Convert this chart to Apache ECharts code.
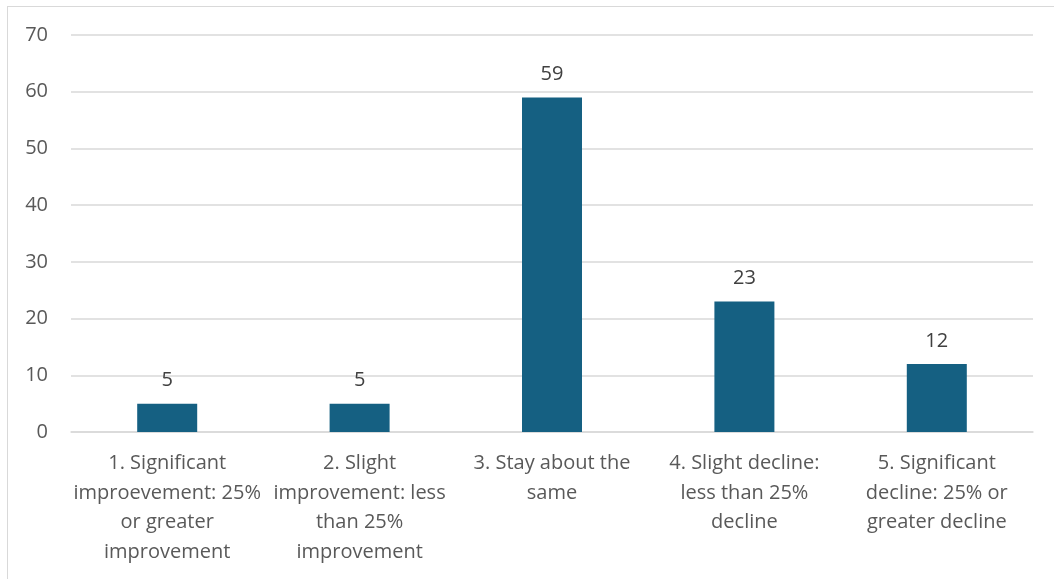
<!DOCTYPE html>
<html><head><meta charset="utf-8">
<script src="https://cdn.jsdelivr.net/npm/echarts@6/dist/echarts.min.js"></script>
<style>
html,body{margin:0;padding:0;background:#fff;}
#frame{position:absolute;left:7px;top:6px;width:1060px;height:590px;border:1px solid #d9d9d9;box-sizing:border-box;}
#c{position:absolute;left:0;top:0;width:1054px;height:579px;}
</style></head>
<body>
<div id="frame"></div>
<div id="c"></div>
<script>
const categories = [
  "1. Significant\nimproevement: 25%\nor greater\nimprovement",
  "2. Slight\nimprovement: less\nthan 25%\nimprovement",
  "3. Stay about the\nsame",
  "4. Slight decline:\nless than 25%\ndecline",
  "5. Significant\ndecline: 25% or\ngreater decline"
];
const values = [5, 5, 59, 23, 12];
const yTicks = [0, 10, 20, 30, 40, 50, 60, 70];

const chart = echarts.init(document.getElementById('c'), null, {renderer:'canvas'});
const font = '"Open Sans", "Noto Sans", sans-serif';
chart.setOption({
  animation:false,
  grid:{left:71, right:21, top:35, bottom:147, containLabel:false},
  xAxis:{
    type:'category', data:categories,
    axisTick:{show:false},
    axisLine:{lineStyle:{color:'#d9d9d9', width:1.5}},
    axisLabel:{color:'#595959', fontSize:20, fontFamily:font, lineHeight:29.5, margin:17, interval:0, align:'center'}
  },
  yAxis:{
    type:'value', min:yTicks[0], max:yTicks[yTicks.length-1], interval:10,
    axisLine:{show:false}, axisTick:{show:false},
    splitLine:{lineStyle:{color:'#d9d9d9', width:1.5}},
    axisLabel:{color:'#595959', fontSize:20, fontFamily:font, margin:23}
  },
  series:[{
    type:'bar', data:values, barWidth:60,
    itemStyle:{color:'#156082'},
    label:{show:true, position:'top', distance:13, color:'#404040', fontSize:20, fontFamily:font}
  }]
});
</script>
</body></html>
